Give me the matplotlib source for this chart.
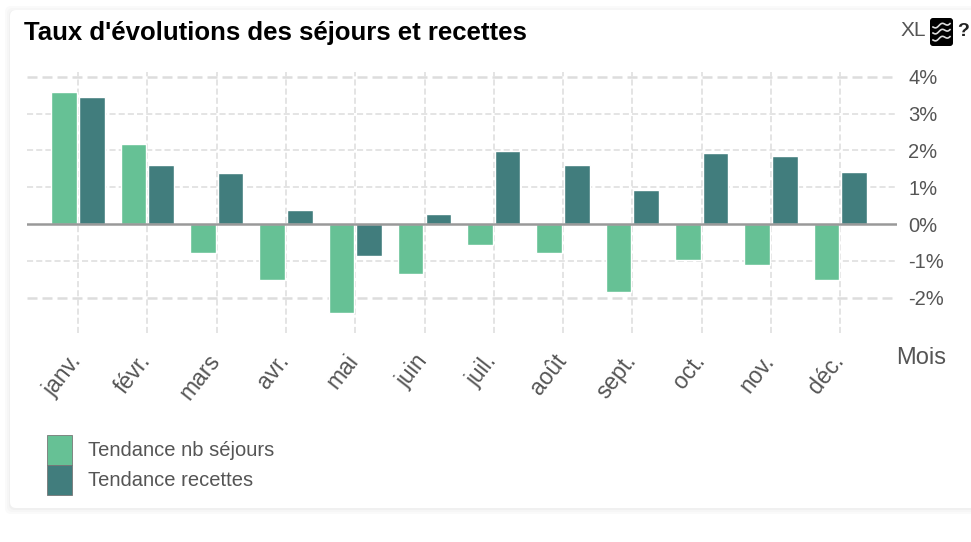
import matplotlib
matplotlib.use('Agg')
import matplotlib.pyplot as plt
from matplotlib.patches import FancyBboxPatch
from matplotlib.transforms import ScaledTranslation
import numpy as np

mois = ['janv.', 'févr.', 'mars', 'avr.', 'mai', 'juin', 'juil.', 'août', 'sept.', 'oct.', 'nov.', 'déc.']
sejours = [3.58, 2.17, -0.80, -1.53, -2.42, -1.35, -0.58, -0.79, -1.86, -0.98, -1.11, -1.53]
recettes = [3.44, 1.60, 1.38, 0.37, -0.87, 0.27, 1.98, 1.60, 0.92, 1.92, 1.84, 1.42]
yticks = [-2, -1, 0, 1, 2, 3, 4]

VERT = '#66c195'
BLEU = '#417d7d'
GRIS = '#555555'
W, H = 971, 542

plt.rcParams['font.family'] = ['Liberation Sans', 'DejaVu Sans']

fig = plt.figure(figsize=(W / 100, H / 100), dpi=100, facecolor='white')

# fond de la carte avec ombre legere
bg = fig.add_axes([0, 0, 1, 1], zorder=0)
bg.set_xlim(0, W)
bg.set_ylim(H, 0)
bg.axis('off')
for i, c in zip([5, 3, 1], ['#fafafa', '#f6f6f6', '#f0f0f0']):
    bg.add_patch(FancyBboxPatch((10 - i, 10 - i + 1), 990, 498 + 2 * i,
                                boxstyle='round,pad=0,rounding_size=6', fc=c, ec='none'))
bg.add_patch(FancyBboxPatch((10, 10), 990, 498, boxstyle='round,pad=0,rounding_size=6',
                            fc='white', ec='none'))

# icone
bg.add_patch(FancyBboxPatch((930, 18), 23, 28, boxstyle='round,pad=0,rounding_size=3',
                            fc='black', ec='none'))
t = np.linspace(0, 1, 30)
for y0 in [27, 33, 40]:
    bg.plot(933 + 17 * t, y0 - 4 * t + 1.5 * np.sin(t * 9), color='#dddddd', lw=1.2)

ax = fig.add_axes([27 / W, 1 - 333 / H, (897 - 27) / W, (333 - 72) / H], zorder=1)
ax.patch.set_alpha(0)

x = np.arange(len(mois))
ax.bar(x - 0.2, sejours, 0.37, color=VERT, edgecolor='white', linewidth=1, label='Tendance nb séjours', zorder=3)
ax.bar(x + 0.2, recettes, 0.37, color=BLEU, edgecolor='white', linewidth=1, label='Tendance recettes', zorder=3)

ax.set_xlim((27 - 78) / 69.3, (897 - 78) / 69.3)
ax.set_ylim((224 - 333) / 36.8, (224 - 72) / 36.8)
ax.axhline(0, color='#999999', lw=1.8, zorder=4)

ax.set_xticks(x)
ax.set_xticklabels(mois, rotation=52, ha='right', va='top', rotation_mode='anchor',
                   fontsize=16.5, color=GRIS)
ax.set_yticks(yticks)
ax.set_yticklabels([f'{v}%' for v in yticks], fontsize=14.5, color=GRIS)
ax.yaxis.tick_right()
ax.tick_params(axis='both', length=0)
ax.tick_params(axis='x', pad=12)
ax.tick_params(axis='y', pad=8)
decal = ScaledTranslation(-10 / 100, 0, fig.dpi_scale_trans)
for lab in ax.get_xticklabels():
    lab.set_transform(lab.get_transform() + decal)
ax.grid(True, color='#dddddd', ls=(0, (4, 2)), lw=1.1, zorder=0)
for v, g in zip(yticks, ax.get_ygridlines()):
    if v in (-2, 4):
        g.set_linewidth(1.8)
    if v == 0:
        g.set_visible(False)
for s in ax.spines.values():
    s.set_visible(False)

ax.set_xlabel('Mois', fontsize=17, color=GRIS)
ax.xaxis.set_label_coords((921 - 27) / 870, -(358 - 333) / 261)
ax.xaxis.label.set_va('center')

fig.text(24 / W, 1 - 33 / H, "Taux d'évolutions des séjours et recettes", fontsize=18.5,
         fontweight='bold', color='black', va='center', ha='left')
fig.text(901 / W, 1 - 31 / H, 'XL', fontsize=15, color='#555555', va='center', ha='left')
fig.text(957 / W, 1 - 32 / H, '?', fontsize=14, fontweight='bold', color='#222222', va='center', ha='left')

h, l = ax.get_legend_handles_labels()
leg = fig.legend(h, l, loc='upper left', bbox_to_anchor=(47 / W, 1 - 435 / H), frameon=False,
                 fontsize=14.5, borderaxespad=0, borderpad=0, labelspacing=0, handlelength=1.24,
                 handleheight=1.9, handletextpad=0.8, labelcolor=GRIS)
for p in leg.get_patches():
    p.set_edgecolor('#777777')
    p.set_linewidth(0.6)

fig.savefig('out.png', dpi=100, facecolor='white')
